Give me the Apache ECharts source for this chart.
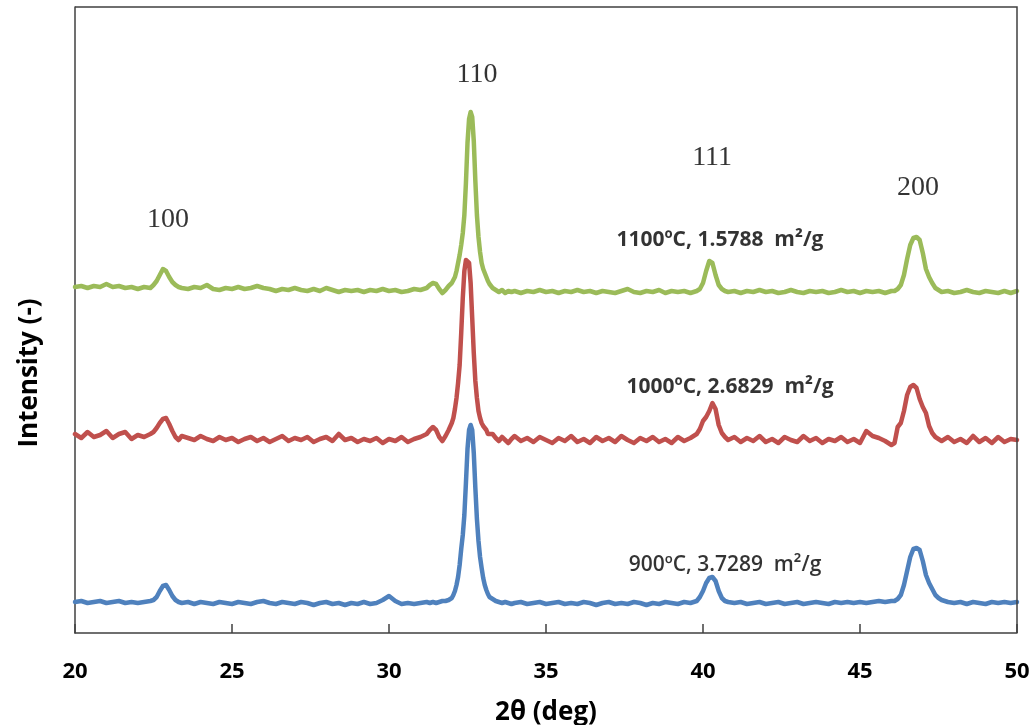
<!DOCTYPE html>
<html>
<head>
<meta charset="utf-8">
<script src="https://cdn.jsdelivr.net/npm/echarts@6/dist/echarts.min.js"></script>
<style>html,body{margin:0;padding:0;background:#fff}#c{width:1036px;height:725px}</style>
</head>
<body>
<div id="c"></div>
<script>
// 2θ sampling grid (deg)
const twoTheta = [
20.0,20.2,20.4,20.6,20.8,21.0,21.2,21.4,21.6,21.8,22.0,22.2,22.4,
22.5,22.6,22.7,22.8,22.9,23.0,23.1,23.2,23.3,
23.4,23.6,23.8,24.0,24.2,24.4,24.6,24.8,25.0,25.2,25.4,25.6,25.8,26.0,26.2,26.4,26.6,26.8,27.0,27.2,27.4,27.6,27.8,28.0,28.2,28.4,28.6,28.8,29.0,29.2,29.4,29.6,29.8,30.0,30.2,30.4,30.6,30.8,31.0,31.2,
31.3,31.4,31.5,31.6,31.7,31.8,31.9,
32.0,32.05,32.1,32.15,32.2,32.25,32.3,32.35,32.4,32.45,32.5,32.55,32.6,32.65,32.7,32.75,32.8,32.85,32.9,32.95,33.0,33.05,33.1,33.15,33.2,
33.3,33.4,33.5,33.6,33.7,33.8,33.9,
34.0,34.2,34.4,34.6,34.8,35.0,35.2,35.4,35.6,35.8,36.0,36.2,36.4,36.6,36.8,37.0,37.2,37.4,37.6,37.8,38.0,38.2,38.4,38.6,38.8,39.0,39.2,39.4,39.6,39.8,
39.9,40.0,40.1,40.2,40.3,40.4,40.5,40.6,40.7,40.8,
41.0,41.2,41.4,41.6,41.8,42.0,42.2,42.4,42.6,42.8,43.0,43.2,43.4,43.6,43.8,44.0,44.2,44.4,44.6,44.8,45.0,45.2,45.4,45.6,45.8,46.0,
46.1,46.2,46.3,46.4,46.5,46.6,46.7,46.8,46.9,47.0,47.1,47.2,47.3,47.4,47.5,
47.6,47.8,48.0,48.2,48.4,48.6,48.8,49.0,49.2,49.4,49.6,49.8,50.0
];

// Intensity (offset, arbitrary units) – 1100 °C
const int1100 = [
346,347,345,347,346,349,346,347,345,346,344,346,345,
348,352,358,364,362,356,351,348,346,
345,344,346,345,348,344,343,345,344,346,344,345,347,345,344,342,344,343,345,343,342,344,342,345,343,341,343,342,343,341,343,342,344,342,343,341,342,344,343,345,
348,350,349,344,340,343,347,
350,352,356,362,370,378,388,400,418,450,490,514,521,516,492,452,418,396,381,370,364,360,356,352,349,
345,343,341,343,340,342,341,
342,340,342,341,343,341,342,340,342,341,343,341,342,340,342,341,340,342,344,341,340,342,341,343,340,342,341,342,340,342,
344,350,362,372,370,358,348,344,342,341,
342,340,342,341,343,341,342,340,341,343,341,340,342,341,342,340,341,343,341,342,340,342,341,342,340,342,
342,344,348,358,374,388,395,396,393,380,364,356,350,345,343,
341,342,340,341,343,341,340,342,341,340,342,340,342
];

// Intensity – 1000 °C
const int1000 = [
199,195,201,196,198,202,195,199,201,194,198,196,199,
201,205,210,214,215,209,202,196,193,
197,195,193,197,194,192,196,193,195,191,194,196,192,195,191,194,197,192,195,193,196,191,194,196,192,199,193,195,191,194,192,195,190,194,192,196,191,194,196,199,
203,206,203,196,192,197,203,
210,215,224,235,250,268,300,335,362,373,375,370,350,315,280,252,235,222,215,210,207,206,203,199,197,
199,195,192,196,193,190,194,
197,192,195,191,196,193,190,195,192,197,191,194,190,196,192,195,191,197,193,190,195,192,196,191,194,190,196,192,195,199,
204,212,216,222,230,224,208,200,196,193,
196,191,195,192,197,191,194,190,196,193,191,197,192,195,190,194,192,196,191,194,190,202,197,195,192,188,
190,206,210,222,238,246,248,245,234,226,220,207,200,196,194,
192,196,191,194,190,197,191,195,190,196,191,194,193
];

// Intensity – 900 °C
const int900 = [
31,32,30,31,32,30,31,32,30,31,30,31,32,
33,36,42,47,48,43,37,33,31,
30,31,29,31,30,29,31,30,29,31,30,29,31,32,30,29,31,30,29,31,30,28,30,31,29,30,28,30,29,31,29,30,33,37,32,29,30,29,30,31,
30,31,30,31,32,32,33,
35,38,42,48,56,68,84,98,118,150,184,203,208,203,180,145,114,92,76,65,55,48,43,39,36,
34,32,31,30,31,30,29,
30,31,29,30,31,29,30,31,29,30,29,31,30,28,30,31,29,30,29,31,30,28,30,29,31,30,29,31,30,32,
36,42,50,55,56,52,42,35,32,31,
30,31,29,30,31,29,30,31,29,30,31,29,30,31,30,29,31,30,31,30,31,30,31,32,31,32,
32,34,38,48,62,76,84,85,83,72,58,50,44,38,35,
33,31,30,31,29,31,30,29,31,30,31,30,31
];

const xTicks = [20, 25, 30, 35, 40, 45, 50];
const xRange = [20, 50];
const yRange = [0, 626];

// Miller-index peak labels
const peakNames = ['100', '110', '111', '200'];
const peakNameX = [22.96, 32.8, 40.29, 46.85];
const peakNameY = [413, 558, 475, 445];

// Sample annotations
const sampleNames = ['1100ºC, 1.5788  m²/g', '1000ºC, 2.6829  m²/g', '900ºC, 3.7289  m²/g'];
const sampleNameX = [40.54, 40.86, 40.7];
const sampleNameY = [393, 246, 68];

const pairs = (ys) => twoTheta.map((x, i) => [x, ys[i]]);

const lineSeries = (name, ys, color) => ({
  name, type: 'line', data: pairs(ys), showSymbol: false, symbol: 'none',
  lineStyle: { color, width: 4.5, cap: 'round', join: 'round' }, z: 2
});

const axisColor = '#404040';
const frameAxis = () => ({ show: true, onZero: false, lineStyle: { color: axisColor, width: 1.5 } });

const chart = echarts.init(document.getElementById('c'), null, { renderer: 'canvas' });
chart.setOption({
  animation: false,
  backgroundColor: '#fff',
  grid: { left: 75, top: 7, width: 942, height: 626, containLabel: false, outerBoundsMode: 'none' },
  xAxis: {
    type: 'value', min: xRange[0], max: xRange[1], interval: 5,
    name: '2θ (deg)', nameLocation: 'middle', nameGap: 67,
    nameTextStyle: { fontFamily: 'Open Sans', fontWeight: 'bold', fontSize: 26, color: '#000' },
    axisLine: frameAxis(),
    axisTick: { show: true, inside: true, length: 9, lineStyle: { color: axisColor, width: 1.5 } },
    axisLabel: { margin: 28, fontFamily: 'Open Sans', fontWeight: 'bold', fontSize: 22, color: '#000',
      formatter: (v) => xTicks.includes(v) ? String(v) : '' },
    splitLine: { show: false }
  },
  yAxis: {
    type: 'value', min: yRange[0], max: yRange[1],
    name: 'Intensity (-)', nameLocation: 'middle', nameGap: 32, nameRotate: 90,
    nameTextStyle: { fontFamily: 'Open Sans', fontWeight: 'bold', fontSize: 26, color: '#000', padding: [0, 106, 0, 0] },
    axisLine: frameAxis(),
    axisTick: { show: false }, axisLabel: { show: false }, splitLine: { show: false }
  },
  series: [
    lineSeries('900ºC', int900, '#4F81BD'),
    lineSeries('1000ºC', int1000, '#C0504D'),
    lineSeries('1100ºC', int1100, '#9BBB59'),
    {
      type: 'scatter', symbolSize: 0, silent: true, z: 5,
      data: peakNames.map((n, i) => ({ name: n, value: [peakNameX[i], peakNameY[i]] })),
      label: { show: true, position: 'inside', formatter: '{b}', fontFamily: 'Liberation Serif', fontSize: 28, color: '#000' }
    },
    {
      type: 'scatter', symbolSize: 0, silent: true, z: 5,
      data: sampleNames.map((n, i) => ({
        name: n, value: [sampleNameX[i], sampleNameY[i]],
        label: { fontWeight: i === 2 ? '600' : 'bold', color: '#000' }
      })),
      label: { show: true, position: 'inside', formatter: '{b}', fontFamily: 'Open Sans', fontWeight: 'bold', fontSize: 21, color: '#000' }
    }
  ]
});

// Plot-area frame (top and right edges), placed from the axis scales
const tl = chart.convertToPixel({ gridIndex: 0 }, [xRange[0], yRange[1]]);
const br = chart.convertToPixel({ gridIndex: 0 }, [xRange[1], yRange[0]]);
chart.setOption({
  graphic: [{
    type: 'polyline', silent: true, z: 10,
    shape: { points: [[tl[0], tl[1]], [br[0], tl[1]], [br[0], br[1]]] },
    style: { fill: null, stroke: axisColor, lineWidth: 1.5 }
  }]
});
</script>
</body>
</html>
